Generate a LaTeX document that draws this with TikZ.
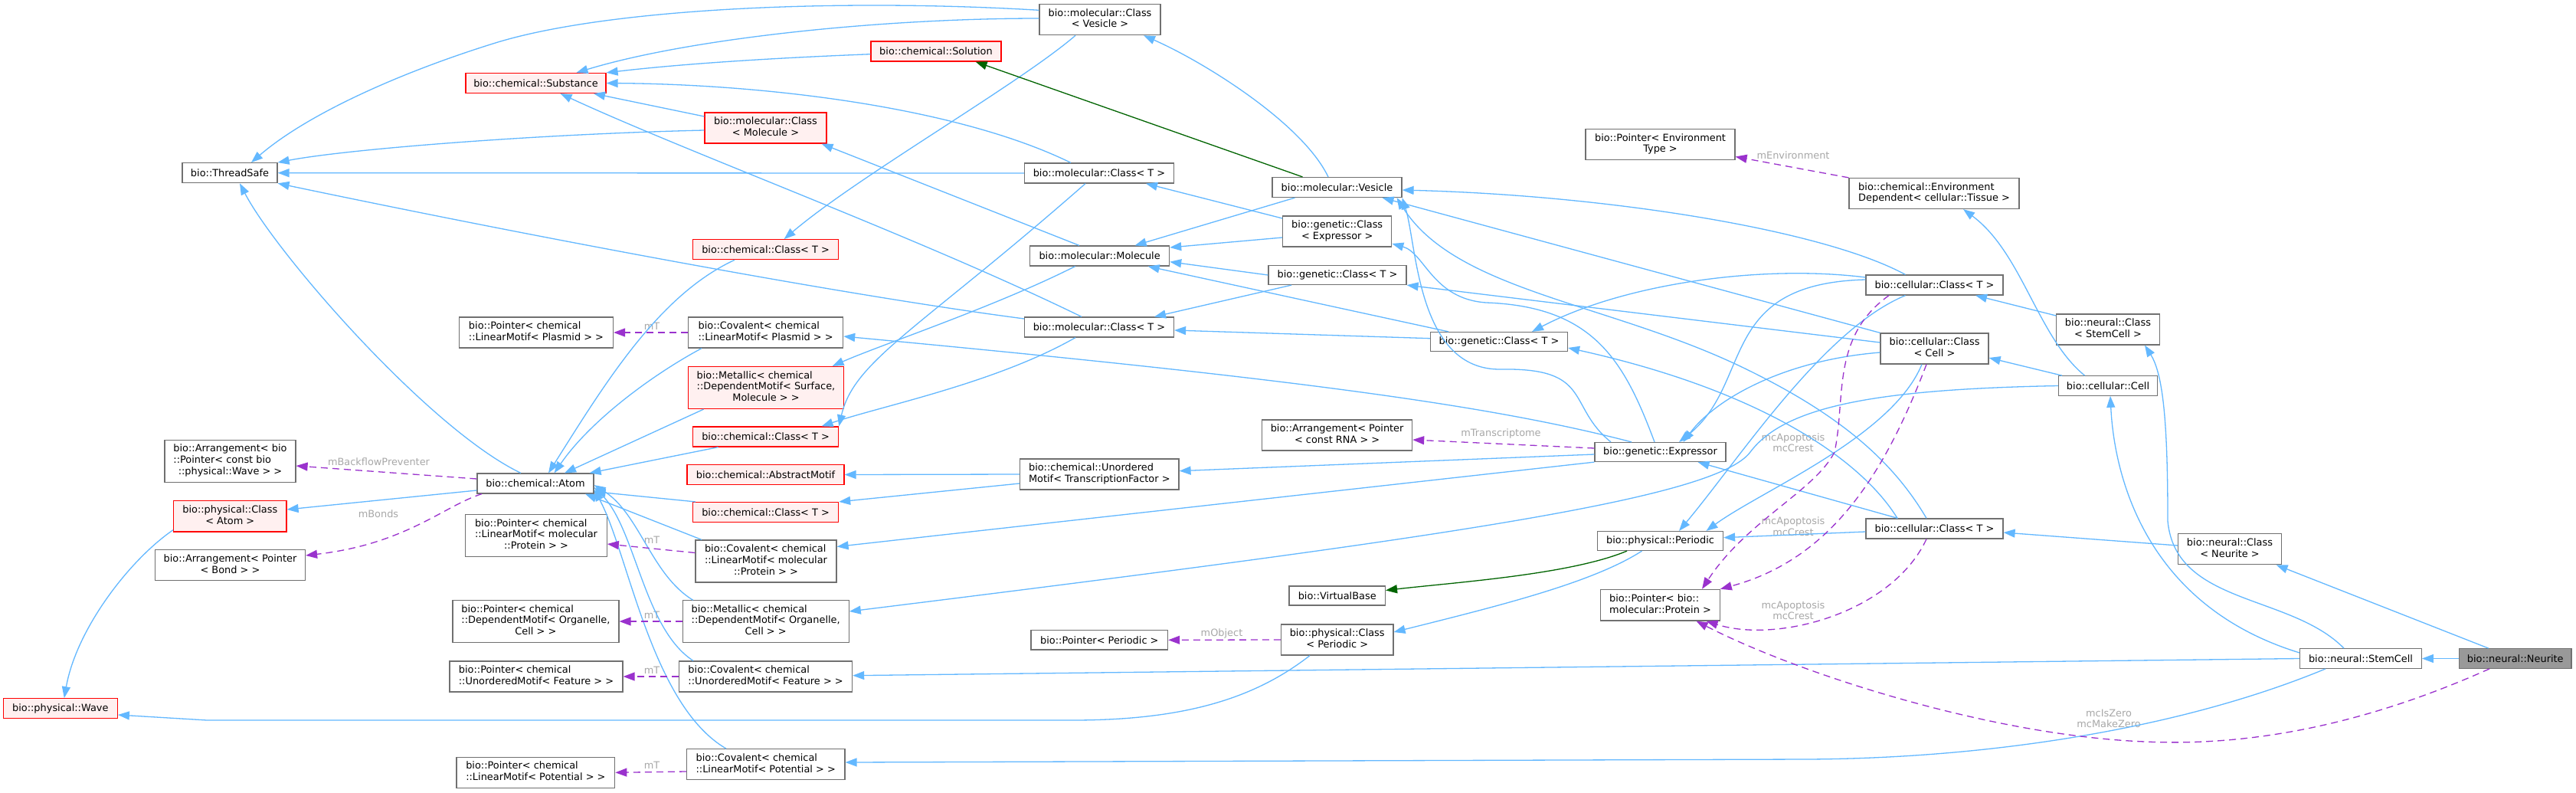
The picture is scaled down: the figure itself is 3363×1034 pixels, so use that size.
\documentclass[tikz,border=0pt]{standalone}
\usepackage{fontspec}
\setmainfont{DejaVu Sans}
\usetikzlibrary{arrows.meta,calc}
\definecolor{eblue}{HTML}{63B8FF}
\definecolor{egreen}{HTML}{006400}
\definecolor{epurple}{HTML}{9A32CD}
\definecolor{nborder}{HTML}{707070}
\definecolor{lblgray}{HTML}{A8A8A8}
\definecolor{redfill}{HTML}{FFF0F0}
\definecolor{neufill}{HTML}{999999}
\newcommand{\tl}[1]{\begin{tabular}{@{}l@{}}#1\end{tabular}}
\newcommand{\tc}[1]{\begin{tabular}{@{}c@{}}#1\end{tabular}}
\newcommand{\lastc}[1]{\multicolumn{1}{@{}c@{}}{#1}}
\tikzset{
  box/.style={draw=nborder, fill=white, line width=1.2pt, inner sep=0pt, font=\fontsize{12.9}{14.7}\selectfont},
  rbox/.style={box, draw=red},
  rbox/.append style={fill=redfill},
  gbox/.style={box, fill=neufill},
  lbl/.style={text=lblgray, inner sep=0pt, font=\fontsize{12.9}{14.7}\selectfont},
  inh/.style={draw=eblue, line width=1.3pt, -{Triangle[length=15pt,width=11pt]}},
  prv/.style={draw=egreen, line width=1.3pt, -{Triangle[length=15pt,width=11pt]}},
  usr/.style={draw=epurple, line width=1.3pt, dash pattern=on 9pt off 6pt, -{Triangle[length=15pt,width=11pt]}},
}
\begin{document}
\begin{tikzpicture}[x=1pt,y=-1pt]
\fill[white] (0,0) rectangle (3363,1034);
\useasboundingbox (0,0) rectangle (3363,1034);
% nodes
\node[box, minimum width=158pt, minimum height=40pt] (cvs) at (1436,25.7) {\tc{bio::molecular::Class\\< Vesicle >}};
\node[rbox, minimum width=170pt, minimum height=26pt] (sol) at (1222,67) {bio::chemical::Solution};
\node[rbox, minimum width=183pt, minimum height=26pt] (sub) at (699.5,108.5) {bio::chemical::Substance};
\node[rbox, minimum width=159pt, minimum height=40pt] (cmol) at (999.5,167) {\tc{bio::molecular::Class\\< Molecule >}};
\node[box, minimum width=124pt, minimum height=26pt] (ts) at (300,225.7) {bio::ThreadSafe};
\node[box, minimum width=195pt, minimum height=26pt] (mct1) at (1435,226) {bio::molecular::Class< T >};
\node[box, minimum width=169pt, minimum height=26pt] (ves) at (1745.5,244.5) {bio::molecular::Vesicle};
\node[box, minimum width=195pt, minimum height=40pt] (penv) at (2167.5,188.5) {\tc{bio::Pointer< Environment\\Type >}};
\node[box, minimum width=222pt, minimum height=40pt] (envd) at (2525,252.5) {\tl{bio::chemical::Environment\\Dependent< cellular::Tissue >}};
\node[box, minimum width=142pt, minimum height=40pt] (gce) at (1745.7,302) {\tc{bio::genetic::Class\\< Expressor >}};
\node[rbox, minimum width=190pt, minimum height=26pt] (cct1) at (999.6,325.7) {bio::chemical::Class< T >};
\node[box, minimum width=182pt, minimum height=26pt] (mol) at (1435.6,334) {bio::molecular::Molecule};
\node[box, minimum width=180pt, minimum height=25pt] (gct1) at (1746,359) {bio::genetic::Class< T >};
\node[box, minimum width=179pt, minimum height=26pt] (cel1) at (2525.5,372) {bio::cellular::Class< T >};
\node[box, minimum width=201pt, minimum height=40pt] (pplas) at (700,434) {\tl{bio::Pointer< chemical\\::LinearMotif< Plasmid > >}};
\node[box, minimum width=202pt, minimum height=40pt] (covplas) at (999.6,434) {\tl{bio::Covalent< chemical\\::LinearMotif< Plasmid > >}};
\node[box, minimum width=195pt, minimum height=26pt] (mct2) at (1435,427) {bio::molecular::Class< T >};
\node[box, minimum width=134.5pt, minimum height=40pt] (ncs) at (2752,430) {\tc{bio::neural::Class\\< StemCell >}};
\node[box, minimum width=179pt, minimum height=25pt] (gct2) at (1957,446) {bio::genetic::Class< T >};
\node[box, minimum width=141pt, minimum height=40pt] (ccell) at (2525.5,455) {\tc{bio::cellular::Class\\< Cell >}};
\node[rbox, minimum width=202.5pt, minimum height=55pt] (metsurf) at (1000,506) {\tl{bio::Metallic< chemical\\::DependentMotif< Surface,\\\lastc{Molecule > >}}};
\node[box, minimum width=129pt, minimum height=25.5pt] (cell) at (2752,503.5) {bio::cellular::Cell};
\node[rbox, minimum width=190pt, minimum height=26pt] (cct2) at (999.6,570) {bio::chemical::Class< T >};
\node[box, minimum width=196pt, minimum height=40pt] (arrrna) at (1745.6,568) {\tc{bio::Arrangement< Pointer\\< const RNA > >}};
\node[box, minimum width=171pt, minimum height=25pt] (expr) at (2167.5,590) {bio::genetic::Expressor};
\node[box, minimum width=171pt, minimum height=55pt] (arrwave) at (300.5,601.7) {\tl{bio::Arrangement< bio\\::Pointer< const bio\\\lastc{::physical::Wave > >}}};
\node[rbox, minimum width=205pt, minimum height=26pt] (absm) at (999.5,619.5) {bio::chemical::AbstractMotif};
\node[box, minimum width=207.4pt, minimum height=40pt] (utf) at (1435.3,619) {\tl{bio::chemical::Unordered\\Motif< TranscriptionFactor >}};
\node[box, minimum width=152pt, minimum height=26pt] (atom) at (699,631) {bio::chemical::Atom};
\node[rbox, minimum width=147.4pt, minimum height=40.7pt] (pcatom) at (300.3,673.7) {\tc{bio::physical::Class\\< Atom >}};
\node[rbox, minimum width=190pt, minimum height=26pt] (cct3) at (999.6,668.5) {bio::chemical::Class< T >};
\node[box, minimum width=184.4pt, minimum height=55pt] (pprotm) at (700,699) {\tl{bio::Pointer< chemical\\::LinearMotif< molecular\\\lastc{::Protein > >}}};
\node[box, minimum width=179pt, minimum height=26pt] (cel2) at (2525.5,690) {bio::cellular::Class< T >};
\node[box, minimum width=164pt, minimum height=25pt] (per) at (2167.5,706) {bio::physical::Periodic};
\node[box, minimum width=134.6pt, minimum height=40pt] (ncn) at (2911,716.7) {\tc{bio::neural::Class\\< Neurite >}};
\node[box, minimum width=184pt, minimum height=55pt] (covprot) at (1000,732.5) {\tl{bio::Covalent< chemical\\::LinearMotif< molecular\\\lastc{::Protein > >}}};
\node[box, minimum width=196pt, minimum height=40pt] (arrbond) at (300.5,737.7) {\tc{bio::Arrangement< Pointer\\< Bond > >}};
\node[box, minimum width=125.5pt, minimum height=25pt] (vb) at (1745.7,777.5) {bio::VirtualBase};
\node[box, minimum width=155.5pt, minimum height=40.7pt] (pprot) at (2167.5,789.7) {\tl{bio::Pointer< bio::\\molecular::Protein >}};
\node[box, minimum width=217pt, minimum height=54.3pt] (porg) at (699.4,811) {\tl{bio::Pointer< chemical\\::DependentMotif< Organelle,\\\lastc{Cell > >}}};
\node[box, minimum width=217pt, minimum height=54.3pt] (metorg) at (999.7,811) {\tl{bio::Metallic< chemical\\::DependentMotif< Organelle,\\\lastc{Cell > >}}};
\node[box, minimum width=178.6pt, minimum height=25.3pt] (pper) at (1435.3,835.3) {bio::Pointer< Periodic >};
\node[box, minimum width=146.5pt, minimum height=40pt] (pcper) at (1745.7,835) {\tc{bio::physical::Class\\< Periodic >}};
\node[box, minimum width=158.6pt, minimum height=25.6pt] (stem) at (3082,859.5) {bio::neural::StemCell};
\node[gbox, minimum width=146.7pt, minimum height=25.6pt] (neu) at (3283.7,859.5) {bio::neural::Neurite};
\node[box, minimum width=226pt, minimum height=40pt] (pfeat) at (700,883) {\tl{bio::Pointer< chemical\\::UnorderedMotif< Feature > >}};
\node[box, minimum width=226pt, minimum height=40pt] (covfeat) at (999.6,883) {\tl{bio::Covalent< chemical\\::UnorderedMotif< Feature > >}};
\node[rbox, minimum width=149pt, minimum height=25.6pt] (wave) at (78.8,924.5) {bio::physical::Wave};
\node[box, minimum width=206.7pt, minimum height=40pt] (ppot) at (699.4,1008.3) {\tl{bio::Pointer< chemical\\::LinearMotif< Potential > >}};
\node[box, minimum width=206.6pt, minimum height=40pt] (covpot) at (999.7,997.7) {\tl{bio::Covalent< chemical\\::LinearMotif< Potential > >}};
% labels
\node[lbl] (lenv) at (2341,202.7) {mEnvironment};
\node[lbl] (ltr) at (1959.5,566) {mTranscriptome};
\node[lbl] (lobj) at (1595,826.7) {mObject};
\node[lbl] (lbf) at (494.5,603) {mBackflowPreventer};
\node[lbl] (lbond) at (494,671) {mBonds};
\node[lbl] (lt1) at (851,426) {mT};
\node[lbl] (lt2) at (851,705) {mT};
\node[lbl] (lt3) at (851,803) {mT};
\node[lbl] (lt4) at (851,875) {mT};
\node[lbl] (lt5) at (851,999) {mT};
\node[lbl] (lap1) at (2341,579.5) {\tc{mcApoptosis\\mcCrest}};
\node[lbl] (lap2) at (2341,689) {\tc{mcApoptosis\\mcCrest}};
\node[lbl] (lap3) at (2341,798.5) {\tc{mcApoptosis\\mcCrest}};
\node[lbl] (lzero) at (2753,939.5) {\tc{mcIsZero\\mcMakeZero}};
% inheritance edges
\draw[inh] ([yshift=12.4pt]cvs.west) .. controls (1100,-2) and (800,10) .. (650,55) .. controls (520,95) and (400,150) .. ([xshift=28pt]ts.north);
\draw[inh] ([yshift=1.7pt]cvs.west) .. controls (1150,24) and (900,50) .. ([xshift=53pt]sub.north);
\draw[inh] ([xshift=-32pt]cvs.south) .. controls (1330,110) and (1120,230) .. ([xshift=24pt]cct1.north);
\draw[inh] ([yshift=-3.7pt]sol.west) .. controls (950,78) and (850,88) .. (sub.north east);
\draw[inh] ([xshift=-37pt]mct1.north) .. controls (1250,140) and (1000,110) .. (sub.east);
\draw[inh] ([yshift=15pt]cmol.west) -- ([xshift=75.5pt]sub.south);
\draw[inh] ([xshift=-23pt]mct2.north) .. controls (1200,310) and (900,200) .. ([xshift=32pt]sub.south);
\draw[inh] ([yshift=-3pt]cmol.west) .. controls (700,175) and (450,195) .. (ts.north east);
\draw[inh] (mct1.west) -- (ts.east);
\draw[inh] ([yshift=11pt]mct2.west) .. controls (1100,385) and (700,310) .. (ts.south east);
\draw[inh] ([xshift=-19pt]atom.north) .. controls (560,560) and (360,330) .. ([xshift=13pt]ts.south);
\draw[inh] ([xshift=-11.5pt]ves.north) .. controls (1700,160) and (1570,80) .. ([xshift=57pt]cvs.south);
\draw[inh] ([xshift=-26.6pt]mol.north) -- ([xshift=73pt]cmol.south);
\draw[inh] ([yshift=17pt]gce.west) -- ([xshift=61pt]mct1.south);
\draw[inh] ([xshift=-18pt]mct1.south) .. controls (1200,430) and (1115,470) .. (cct2.north east);
\draw[inh] ([xshift=-31pt]mct2.south) .. controls (1300,500) and (1150,530) .. ([xshift=73pt]cct2.north);
\draw[inh] ([xshift=-32pt]mol.south) .. controls (1300,400) and (1150,450) .. ([xshift=86.6pt]metsurf.north);
\draw[inh] ([yshift=-8pt]gce.west) -- ([yshift=11pt]mol.east);
\draw[inh] (gct1.west) -- ([yshift=-7.7pt]mol.east);
\draw[inh] ([xshift=-55pt]ves.south) -- ([xshift=46pt]mol.north);
\draw[inh] ([xshift=-66pt]gct2.north) -- ([xshift=63pt]mol.south);
\draw[inh] ([xshift=-60pt]gct1.south) -- ([xshift=72pt]mct2.north);
\draw[inh] ([yshift=4.3pt]gct2.west) -- ([yshift=-4pt]mct2.east);
\draw[inh] ([xshift=-40.6pt]cct1.south) .. controls (860,385) and (790,500) .. ([xshift=17pt]atom.north);
\draw[inh] ([xshift=-83.6pt]covplas.south) .. controls (850,490) and (770,550) .. ([xshift=24.6pt]atom.north);
\draw[inh] ([xshift=-81.4pt]metsurf.south) -- ([xshift=38pt]atom.north);
\draw[inh] ([xshift=-62pt]cct2.south) -- ([xshift=70.6pt]atom.north);
\draw[inh] ([xshift=-91.8pt]cct3.north) -- ([yshift=-10.7pt]atom.east);
\draw[inh] ([xshift=-84pt]covprot.north) -- ([xshift=65pt]atom.south);
\draw[inh] ([xshift=-95pt]metorg.north) .. controls (850,750) and (835,670) .. ([yshift=-2pt]atom.east);
\draw[inh] ([xshift=-94.6pt]covfeat.north) .. controls (840,820) and (830,690) .. ([yshift=-5pt]atom.east);
\draw[inh] ([xshift=-51.7pt]covpot.north) .. controls (850,920) and (820,720) .. ([yshift=-8pt]atom.east);
\draw[inh] ([yshift=-9pt]atom.west) -- ([yshift=8.7pt]pcatom.east);
\draw[inh] ([yshift=-18pt]pcatom.west) .. controls (170,730) and (100,820) .. ([xshift=5pt]wave.north);
\draw[inh] (utf.west) -- (absm.east);
\draw[inh] ([yshift=-12pt]utf.west) -- (cct3.north east);
\draw[inh] ([yshift=-3pt]expr.west) -- ([yshift=4.3pt]utf.east);
\draw[inh] (expr.south west) -- ([yshift=19pt]covprot.east);
\draw[inh] ([xshift=-37.5pt]expr.north) .. controls (1950,530) and (1700,495) .. ([yshift=-5pt]covplas.east);
\draw[inh] ([xshift=-64.5pt]expr.north) .. controls (2045,530) and (2080,480) .. (1960,482) .. controls (1850,484) and (1850,320) .. (ves.south east);
\draw[inh] ([xshift=-7.5pt]expr.north) .. controls (2120,470) and (2080,400) .. (1940,395) .. controls (1870,390) and (1860,330) .. ([yshift=-16pt]gce.east);
\draw[inh] ([xshift=-38pt]cel1.north) .. controls (2380,300) and (2100,255) .. ([yshift=-3.5pt]ves.east);
\draw[inh] (ccell.north west) -- ([xshift=59pt]ves.south);
\draw[inh] ([xshift=-10.5pt]cel2.north) .. controls (2470,600) and (2400,540) .. (2276,480) .. controls (2100,395) and (1900,380) .. ([xshift=78pt]ves.south);
\draw[inh] ([yshift=8pt]ccell.west) -- (gct1.south east);
\draw[inh] ([yshift=10pt]cel1.west) .. controls (2300,345) and (2120,370) .. ([xshift=43pt]gct2.north);
\draw[inh] ([xshift=-48.5pt]cel2.north) .. controls (2430,600) and (2300,510) .. ([yshift=-8pt]gct2.east);
\draw[inh] ([yshift=7pt]cel1.west) .. controls (2240,370) and (2290,500) .. ([xshift=24.5pt]expr.north);
\draw[inh] ([yshift=-5pt]ccell.west) .. controls (2330,470) and (2240,520) .. ([xshift=30pt]expr.north);
\draw[inh] ([xshift=-48pt]cel2.north) -- ([xshift=49pt]expr.south);
\draw[inh] ([yshift=-4pt]cel2.west) -- ([yshift=4.3pt]per.east);
\draw[inh] ([xshift=-38pt]cel1.south) .. controls (2380,430) and (2270,600) .. ([xshift=24.5pt]per.north);
\draw[inh] ([xshift=-16.5pt]ccell.south) .. controls (2470,570) and (2300,640) .. ([xshift=60pt]per.north);
\draw[inh] ([xshift=-60pt]cell.north) -- ([yshift=-12pt]ccell.east);
\draw[inh] ([xshift=-30.4pt]cell.north) .. controls (2660,440) and (2640,330) .. ([xshift=38pt]envd.south);
\draw[inh] (cell.west) .. controls (2450,508) and (2330,530) .. (2285,590) .. controls (2240,650) and (1900,700) .. ([yshift=13pt]metorg.east);
\draw[inh] ([yshift=18pt]ncs.west) -- ([xshift=53.5pt]cel1.south);
\draw[inh] ([yshift=4.7pt]ncn.west) -- ([yshift=-5pt]cel2.east);
\draw[inh] ([yshift=7.5pt]stem.west) .. controls (2800,790) and (2760,620) .. ([xshift=3pt]cell.south);
\draw[inh] ([xshift=-22pt]stem.north) .. controls (2990,775) and (2840,790) .. (2830,680) .. controls (2830,560) and (2825,490) .. ([xshift=48pt]ncs.south);
\draw[inh] (stem.west) -- ([yshift=1.3pt]covfeat.east);
\draw[inh] ([xshift=-46pt]stem.south) .. controls (2850,950) and (2600,990) .. (2357,991) -- ([yshift=2.7pt]covpot.east);
\draw[inh] (neu.west) -- (stem.east);
\draw[inh] ([xshift=-35pt]neu.north) -- ([xshift=60.6pt]ncn.south);
\draw[inh] ([xshift=-24pt]per.south) .. controls (2080,760) and (1960,790) .. ([yshift=10pt]pcper.east);
\draw[inh] ([xshift=-35.7pt]pcper.south) .. controls (1640,910) and (1550,940) .. (1400,940) -- (270,940) -- ([yshift=-8.5pt]wave.east);
% private (green)
\draw[prv] ([xshift=-45pt]ves.north) -- ([xshift=51.6pt]sol.south);
\draw[prv] ([xshift=-43.5pt]per.south) .. controls (2050,750) and (1900,760) .. ([yshift=7pt]vb.east);
% usage (dashed)
\draw[usr] (envd.north west) -- ([yshift=-16pt]penv.east);
\draw[usr] ([yshift=5pt]expr.west) -- ([yshift=-6pt]arrrna.east);
\draw[usr] (pcper.west) -- (pper.east);
\draw[usr] (covplas.west) -- (pplas.east);
\draw[usr] ([yshift=11pt]covprot.west) -- ([yshift=-11pt]pprotm.east);
\draw[usr] (metorg.west) -- (porg.east);
\draw[usr] (covfeat.west) -- (pfeat.east);
\draw[usr] ([yshift=-9.3pt]covpot.west) -- (ppot.east);
\draw[usr] ([yshift=6pt]atom.west) -- ([yshift=-6.3pt]arrwave.east);
\draw[usr] ([xshift=-70pt]atom.south) .. controls (580,660) and (530,710) .. ([yshift=12.7pt]arrbond.east);
\draw[usr] ([xshift=-59.5pt]cel1.south) .. controls (2390,440) and (2410,520) .. (2395,590) .. controls (2370,640) and (2280,680) .. ([xshift=54.5pt]pprot.north);
\draw[usr] ([xshift=-10.5pt]ccell.south) .. controls (2460,620) and (2390,730) .. (pprot.north east);
\draw[usr] ([xshift=-10.5pt]cel2.south) .. controls (2470,800) and (2320,840) .. ([xshift=60pt]pprot.south);
\draw[usr] ([xshift=-33.7pt]neu.south) .. controls (3100,940) and (2950,975) .. (2800,968) .. controls (2600,960) and (2350,880) .. ([xshift=47pt]pprot.south);
\end{tikzpicture}
\end{document}
